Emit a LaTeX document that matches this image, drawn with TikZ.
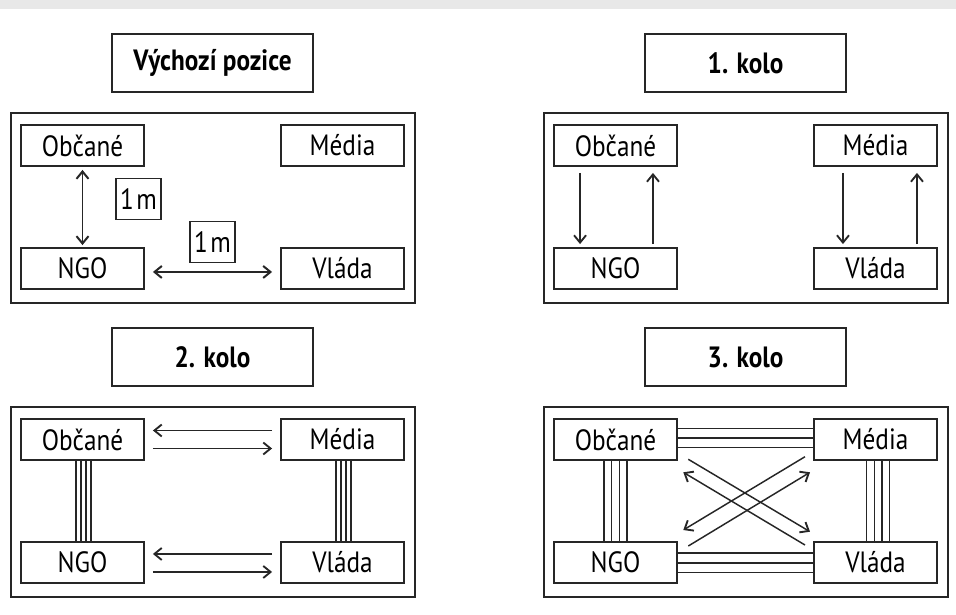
\documentclass[tikz,border=0pt]{standalone}
\usepackage{fontspec}
\setmainfont[FakeStretch=0.86]{PT Sans}
\usetikzlibrary{arrows.meta}
\begin{document}
\begin{tikzpicture}[x=0.75pt,y=-0.75pt,
  actor/.style={draw=black!85, line width=1.4pt, minimum width=92.25pt, minimum height=30.75pt, inner sep=0pt, font=\fontsize{22}{25}\selectfont},
  titlebox/.style={draw=black!85, line width=1.4pt, minimum width=150.75pt, minimum height=43.5pt, inner sep=0pt, font=\fontsize{22}{25}\selectfont\bfseries},
  frame/.style={draw=black!85, line width=1.4pt, minimum width=303pt, minimum height=142.5pt, inner sep=0pt},
  dist/.style={draw=black!85, line width=1.4pt, minimum width=33.75pt, minimum height=30.75pt, inner sep=0pt, font=\fontsize{22}{25}\selectfont},
  arr/.style={draw=black!85, line width=1.1pt, -{Straight Barb[length=5.5pt,width=9pt,line width=1.4pt]}},
  darr/.style={draw=black!85, line width=1.3pt, {Straight Barb[length=5.5pt,width=9pt,line width=1.5pt]}-{Straight Barb[length=5.5pt,width=9pt,line width=1.5pt]}},
  strand/.style={draw=black!85, line width=0.9pt}
]
\useasboundingbox (0,0) rectangle (956,614);
\fill[black!9] (0,0) rectangle (956,9);

% ---------- Panel 1: Výchozí pozice ----------
\begin{scope}[shift={(0,0)}]
  \node[titlebox] (t1) at (212.5,63) {Výchozí pozice};
  \node[frame] (f1) at (213,208) {};
  \node[actor] (o1) at (82.5,145.5) {Občané};
  \node[actor] (m1) at (342.5,145.5) {Média};
  \node[actor] (n1) at (82.5,268.5) {NGO};
  \node[actor] (v1) at (342.5,268.5) {Vláda};
  \node[dist] (d1) at (138.5,199) {1\kern2pt m};
  \node[dist] (d2) at (212.5,242) {1\kern2pt m};
  \draw[darr, shorten <=2.25pt, shorten >=1.5pt] (o1.south) -- (n1.north);
  \draw[darr, shorten <=6pt, shorten >=6pt] ([yshift=-2.6pt]n1.east) -- ([yshift=-2.6pt]v1.west);
\end{scope}

% ---------- Panel 2: 1. kolo ----------
\begin{scope}[shift={(533,0)}]
  \node[titlebox] (t2) at (212.5,63) {1. kolo};
  \node[frame] (f2) at (213,208) {};
  \node[actor] (o2) at (82.5,145.5) {Občané};
  \node[actor] (m2) at (342.5,145.5) {Média};
  \node[actor] (n2) at (82.5,268.5) {NGO};
  \node[actor] (v2) at (342.5,268.5) {Vláda};
  \draw[arr, shorten <=4.5pt, shorten >=2.25pt] ([xshift=-26.6pt]o2.south) -- ([xshift=-26.6pt]n2.north);
  \draw[arr, shorten <=2.25pt, shorten >=4.5pt] ([xshift=28.1pt]n2.north) -- ([xshift=28.1pt]o2.south);
  \draw[arr, shorten <=4.5pt, shorten >=2.25pt] ([xshift=-24.4pt]m2.south) -- ([xshift=-24.4pt]v2.north);
  \draw[arr, shorten <=2.25pt, shorten >=4.5pt] ([xshift=31.1pt]v2.north) -- ([xshift=31.1pt]m2.south);
\end{scope}

% ---------- Panel 3: 2. kolo ----------
\begin{scope}[shift={(0,294)}]
  \node[titlebox] (t3) at (212.5,63) {2. kolo};
  \node[frame] (f3) at (213,208) {};
  \node[actor] (o3) at (82.5,145.5) {Občané};
  \node[actor] (m3) at (342.5,145.5) {Média};
  \node[actor] (n3) at (82.5,268.5) {NGO};
  \node[actor] (v3) at (342.5,268.5) {Vláda};
  \draw[arr, shorten <=6pt, shorten >=6pt] ([yshift=6.75pt]m3.west) -- ([yshift=6.75pt]o3.east);
  \draw[arr, shorten <=6pt, shorten >=6pt] ([yshift=-6.75pt]o3.east) -- ([yshift=-6.75pt]m3.west);
  \draw[arr, shorten <=6pt, shorten >=6pt] ([yshift=6.4pt]v3.west) -- ([yshift=6.4pt]n3.east);
  \draw[arr, shorten <=6pt, shorten >=6pt] ([yshift=-7.1pt]n3.east) -- ([yshift=-7.1pt]v3.west);
  \foreach \d in {-4.9,-1.1,2.6,6.4} {
    \draw[strand] ([xshift=\d pt]o3.south) -- ([xshift=\d pt]n3.north);
    \draw[strand] ([xshift=\d pt]m3.south) -- ([xshift=\d pt]v3.north);
  }
\end{scope}

% ---------- Panel 4: 3. kolo ----------
\begin{scope}[shift={(533,294)}]
  \node[titlebox] (t4) at (212.5,63) {3. kolo};
  \node[frame] (f4) at (213,208) {};
  \node[actor] (o4) at (82.5,145.5) {Občané};
  \node[actor] (m4) at (342.5,145.5) {Média};
  \node[actor] (n4) at (82.5,268.5) {NGO};
  \node[actor] (v4) at (342.5,268.5) {Vláda};
  \foreach \d in {-8.6,-2.9,2.9,8.6} {
    \draw[strand] ([xshift=\d pt]o4.south) -- ([xshift=\d pt]n4.north);
  }
  \foreach \d in {-7,-1.05,4.9,10.7} {
    \draw[strand] ([xshift=\d pt]m4.south) -- ([xshift=\d pt]v4.north);
  }
  \foreach \d in {8.25,1.1,-6} {
    \draw[strand] ([yshift=\d pt]o4.east) -- ([yshift=\d pt]m4.west);
  }
  \foreach \d in {7.1,-0.4,-7.5} {
    \draw[strand] ([yshift=\d pt]n4.east) -- ([yshift=\d pt]v4.west);
  }
  \coordinate (a1) at (155.3,165.3);
  \coordinate (a2) at (277,237.7);
  \coordinate (b1) at (272,162.7);
  \coordinate (b2) at (150.3,236);
  \coordinate (c1) at (272,251);
  \coordinate (c2) at (150.3,178.3);
  \coordinate (e1) at (155.3,252);
  \coordinate (e2) at (277,178.3);
  \draw[arr] (a1) -- (a2);
  \draw[arr] (b1) -- (b2);
  \draw[arr] (c1) -- (c2);
  \draw[arr] (e1) -- (e2);
\end{scope}
\end{tikzpicture}
\end{document}
